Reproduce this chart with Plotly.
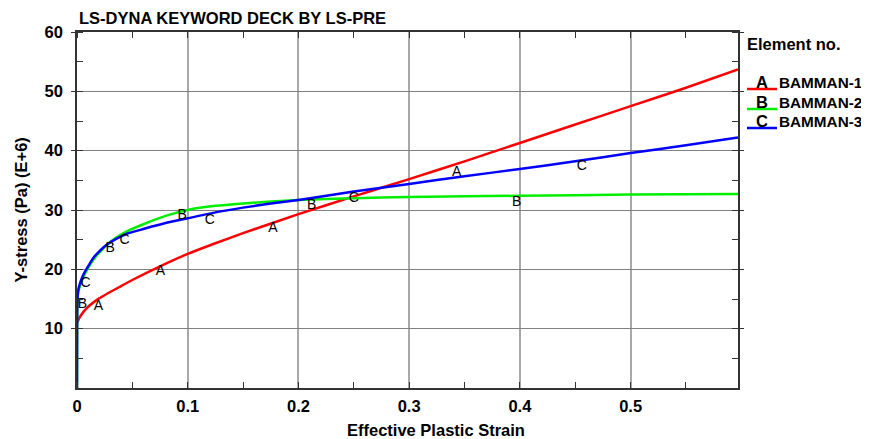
import plotly.graph_objects as go

# ---- data ----
strain_a = [0, 0.003, 0.009, 0.02, 0.039, 0.05, 0.075, 0.1, 0.125, 0.15, 0.2, 0.25,
            0.3, 0.35, 0.4, 0.45, 0.5, 0.55, 0.597]
stress_a = [11.0, 12.1, 13.5, 15.1, 17.1, 18.2, 20.5, 22.6, 24.4, 26.1, 29.3, 32.3,
            35.2, 38.2, 41.3, 44.4, 47.5, 50.6, 53.7]

strain_b = [0, 0.0003, 0.001, 0.003, 0.006, 0.01, 0.015, 0.021, 0.027, 0.035, 0.045,
            0.06, 0.08, 0.1, 0.125, 0.15, 0.2, 0.25, 0.3, 0.4, 0.5, 0.597]
stress_b = [0, 14.0, 16.0, 17.4, 18.8, 20.2, 21.7, 23.0, 24.1, 25.3, 26.4,
            27.6, 29.0, 30.0, 30.7, 31.1, 31.7, 32.0, 32.2, 32.4, 32.6, 32.7]

strain_c = [0, 0.0003, 0.001, 0.003, 0.006, 0.01, 0.015, 0.021, 0.027, 0.035, 0.045,
            0.06, 0.08, 0.1, 0.125, 0.15, 0.175, 0.2, 0.25, 0.3, 0.35, 0.4, 0.45,
            0.5, 0.55, 0.597]
stress_c = [0, 14.0, 16.4, 17.8, 19.2, 20.5, 22.0, 23.2, 24.2, 25.1, 26.0,
            26.8, 27.8, 28.6, 29.6, 30.4, 31.1, 31.7, 33.1, 34.4, 35.7, 36.9, 38.2,
            39.6, 40.9, 42.2]

# curve label positions
lab_a_x = [0.0194, 0.0754, 0.177, 0.343]
lab_a_y = [13.7, 19.6, 26.8, 36.4]
lab_b_x = [0.005, 0.030, 0.095, 0.212, 0.397]
lab_b_y = [14.0, 23.5, 29.0, 30.7, 31.2]
lab_c_x = [0.0077, 0.043, 0.120, 0.250, 0.456]
lab_c_y = [17.6, 24.8, 28.2, 31.9, 37.3]

series_names = ["BAMMAN-1", "BAMMAN-2", "BAMMAN-3"]
series_letters = ["A", "B", "C"]
series_colors = ["#ff0000", "#00ee00", "#0000ff"]

x_ticks = [0, 0.1, 0.2, 0.3, 0.4, 0.5]
x_tick_text = ["0", "0.1", "0.2", "0.3", "0.4", "0.5"]
y_ticks = [10, 20, 30, 40, 50, 60]
y_tick_text = ["10", "20", "30", "40", "50", "60"]

FONT = "Liberation Sans, Arial, sans-serif"
TXT = 16.5

fig = go.Figure()
curves = [(strain_a, stress_a), (strain_b, stress_b), (strain_c, stress_c)]
labels = [(lab_a_x, lab_a_y), (lab_b_x, lab_b_y), (lab_c_x, lab_c_y)]
for (xs, ys), name, col in zip(curves, series_names, series_colors):
    fig.add_trace(go.Scatter(x=xs, y=ys, mode="lines", name=name,
                             line=dict(color=col, width=2.5, shape="spline", smoothing=0.5),
                             showlegend=False))
for (lx, ly), letter in zip(labels, series_letters):
    fig.add_trace(go.Scatter(x=lx, y=ly, mode="text", text=[letter] * len(lx),
                             textfont=dict(family=FONT, size=14, color="black"),
                             showlegend=False, hoverinfo="skip"))

# page is shown with an 8px body margin: work in page pixels, shift by OFF
OFF = 8
W, H = 869 - OFF, 439 - OFF
L, R, T, B = 76.5 - OFF, 738.0 - OFF, 32.0 - OFF, 388.0 - OFF
def px(p):
    return (p - OFF - L) / (R - L)
def py(p):
    return (B - (p - OFF)) / (B - T)

def note(text, x, y, xa="left", angle=0, size=TXT):
    fig.add_annotation(text="<b>" + text + "</b>", xref="paper", yref="paper",
                       x=px(x), y=py(y), xanchor=xa, yanchor="middle", showarrow=False,
                       textangle=angle, font=dict(family=FONT, size=size, color="black"))

note("LS-DYNA KEYWORD DECK BY LS-PRE", 76, 18)
note("Effective Plastic Strain", 436, 430, xa="center")
note("Y-stress (Pa) (E+6)", 20, 210, xa="center", angle=-90)
note("Element no.", 745, 44)
leg_y = [89, 109, 128]
for i in range(3):
    fig.add_shape(type="line", xref="paper", yref="paper",
                  x0=px(747), x1=px(777), y0=py(leg_y[i]), y1=py(leg_y[i]),
                  line=dict(color=series_colors[i], width=2.5))
    note(series_letters[i], 762, leg_y[i] - 7, xa="center")
    note(series_names[i], 777, leg_y[i] - 7, size=15.3)

axis_common = dict(showline=True, linecolor="#333", linewidth=1.5, mirror="allticks",
                   showgrid=True, zeroline=False, automargin=False,
                   tickfont=dict(family=FONT, size=TXT, color="black"))
fig.update_xaxes(range=[0, 0.597], tickmode="array", tickvals=x_ticks,
                 ticktext=["<b>" + t + "</b>" for t in x_tick_text],
                 ticks="", ticklabelstandoff=2, gridcolor="#a8a8a8", gridwidth=1.5,
                 minor=dict(dtick=0.05, ticks="inside", ticklen=6, tickcolor="#333", showgrid=False),
                 **axis_common)
fig.update_yaxes(range=[0, 60], tickmode="array", tickvals=y_ticks,
                 ticktext=["<b>" + t + "</b>" for t in y_tick_text],
                 ticks="outside", ticklen=4, tickcolor="#333", ticklabelstandoff=5,
                 gridcolor="#808080", gridwidth=1,
                 minor=dict(dtick=5, ticks="inside", ticklen=6, tickcolor="#333", showgrid=False),
                 **axis_common)

fig.update_layout(width=W, height=H, plot_bgcolor="white", paper_bgcolor="white",
                  margin=dict(l=L, r=W - R, t=T, b=H - B), showlegend=False,
                  font=dict(family=FONT, color="black"))
fig.write_html("out.html")
